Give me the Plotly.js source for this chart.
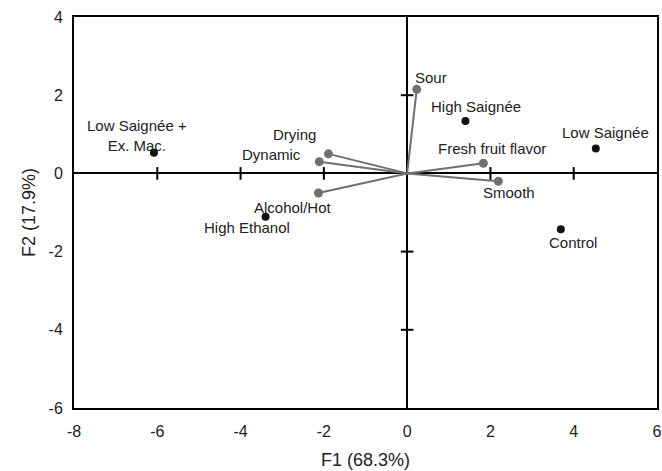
<!DOCTYPE html>
<html>
<head>
<meta charset="utf-8">
<script src="https://cdn.plot.ly/plotly-3.0.1.min.js"></script>
<style>html,body{margin:0;padding:0;background:#fff;}#chart{width:662px;height:471px;}</style>
</head>
<body>
<div id="chart"></div>
<script>
// Samples (black points)
const sampleNames = ["Low Saignée +<br>Ex. Mac.", "High Ethanol", "High Saignée", "Low Saignée", "Control"];
const sampleF1 = [-6.08, -3.40, 1.40, 4.53, 3.69];
const sampleF2 = [0.53, -1.11, 1.34, 0.64, -1.43];

// Attributes (gray vectors)
const attrNames = ["Sour", "Fresh fruit flavor", "Smooth", "Drying", "Dynamic", "Alcohol/Hot"];
const attrF1 = [0.23, 1.83, 2.19, -1.89, -2.11, -2.13];
const attrF2 = [2.15, 0.26, -0.20, 0.50, 0.30, -0.50];

// Axis ticks
const xTicks = [-8, -6, -4, -2, 0, 2, 4, 6];
const yTicks = [-6, -4, -2, 0, 2, 4];

// Label offsets (pixels) - styling only
const sampleShift = [[-17, 17], [-19, -11], [11, 15], [10, 16], [12, -13]];
const attrShift = [[14, 12], [9, 15], [11, -11], [-34, 19], [-48, 7], [-25, -15]];

const vx = [], vy = [];
attrF1.forEach((v, i) => { vx.push(0, v, null); vy.push(0, attrF2[i], null); });

const innerX = xTicks.filter(t => t !== 0 && t !== xTicks[0] && t !== xTicks[xTicks.length - 1]);
const innerY = yTicks.filter(t => t !== 0 && t !== yTicks[0] && t !== yTicks[yTicks.length - 1]);

const traces = [
  {x: vx, y: vy, mode: 'lines', line: {color: '#707070', width: 2}, hoverinfo: 'skip', showlegend: false},
  {x: attrF1, y: attrF2, mode: 'markers', marker: {color: '#707070', size: 9}, showlegend: false},
  {x: sampleF1, y: sampleF2, mode: 'markers', marker: {color: '#111', size: 8}, showlegend: false},
  {x: innerX, y: innerX.map(() => 0), mode: 'markers', marker: {symbol: 'line-ns-open', size: 9, color: '#000', line: {width: 2, color: '#000'}}, hoverinfo: 'skip', showlegend: false},
  {x: innerY.map(() => 0), y: innerY, mode: 'markers', marker: {symbol: 'line-ew-open', size: 9, color: '#000', line: {width: 2, color: '#000'}}, hoverinfo: 'skip', showlegend: false}
];

const labelFont = {family: 'Liberation Sans, Arial, sans-serif', size: 15, color: '#222'};
const annotations = [];
sampleNames.forEach((n, i) => annotations.push({x: sampleF1[i], y: sampleF2[i], text: n, showarrow: false, xshift: sampleShift[i][0], yshift: sampleShift[i][1], font: labelFont}));
attrNames.forEach((n, i) => annotations.push({x: attrF1[i], y: attrF2[i], text: n, showarrow: false, xshift: attrShift[i][0], yshift: attrShift[i][1], font: labelFont}));

const tickFont = {family: 'Liberation Sans, Arial, sans-serif', size: 16, color: '#222'};
const titleFont = {family: 'Liberation Sans, Arial, sans-serif', size: 18, color: '#222'};
const layout = {
  width: 662, height: 471,
  margin: {l: 74, r: 5, t: 17, b: 63},
  paper_bgcolor: '#fff', plot_bgcolor: '#fff',
  font: tickFont,
  xaxis: {
    range: [-8, 6], tickvals: xTicks, ticktext: xTicks.map(String),
    showgrid: false, zeroline: true, zerolinecolor: '#000', zerolinewidth: 2,
    showline: true, mirror: true, linecolor: '#000', linewidth: 2,
    ticks: 'outside', ticklen: 8, tickcolor: 'rgba(0,0,0,0)',
    tickfont: tickFont,
    title: {text: 'F1 (68.3%)', font: titleFont, standoff: 14}
  },
  yaxis: {
    range: [-6, 4], tickvals: yTicks, ticktext: yTicks.map(String),
    showgrid: false, zeroline: true, zerolinecolor: '#000', zerolinewidth: 2,
    showline: true, mirror: true, linecolor: '#000', linewidth: 2,
    ticks: 'outside', ticklen: 6, tickcolor: 'rgba(0,0,0,0)',
    tickfont: tickFont,
    title: {text: 'F2 (17.9%)', font: titleFont, standoff: 8}
  },
  annotations: annotations
};

Plotly.newPlot('chart', traces, layout, {displayModeBar: false, staticPlot: true});
</script>
</body>
</html>
